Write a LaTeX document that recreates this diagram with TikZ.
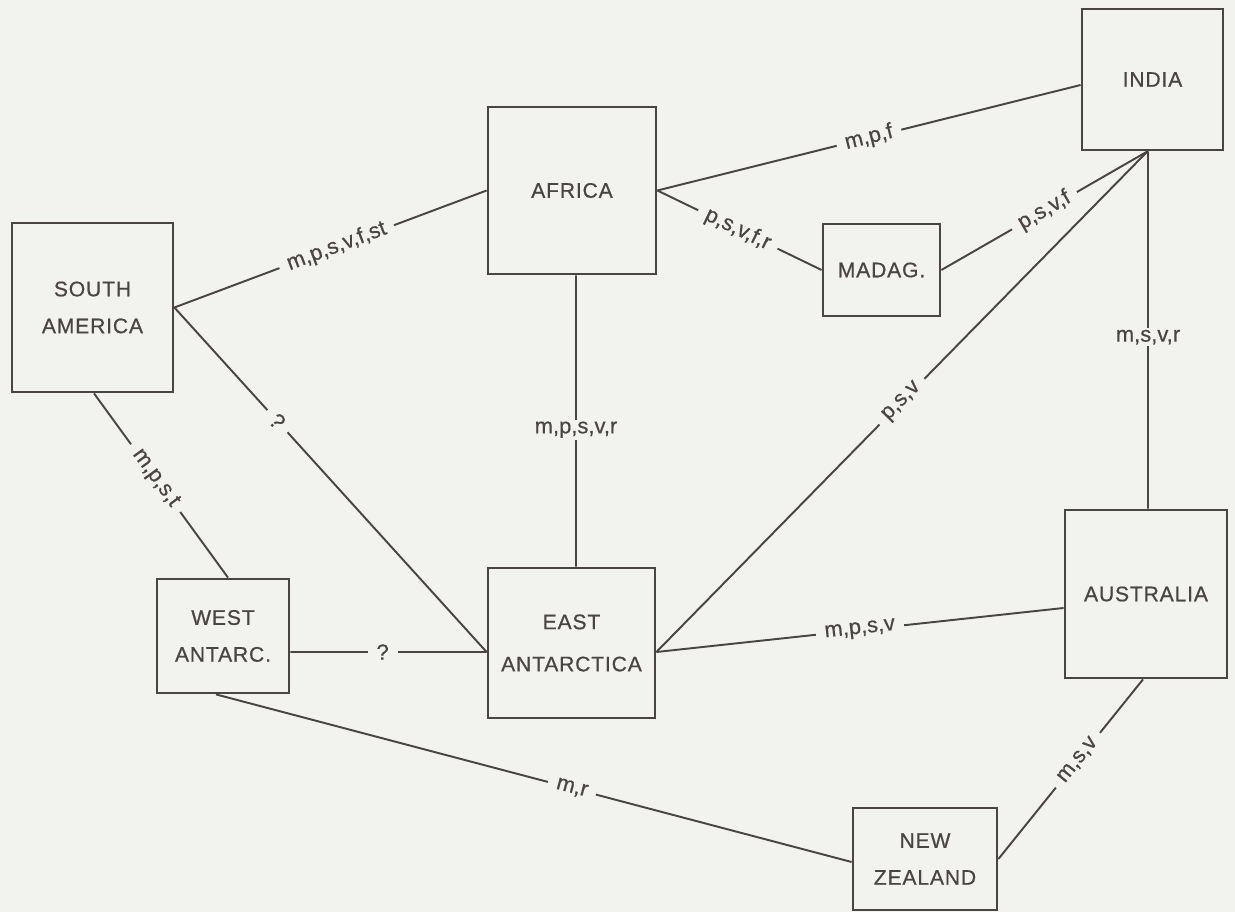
\documentclass[tikz,border=0pt]{standalone}
\usepackage{fontspec}
\setmainfont{Liberation Sans}
\newfontfamily\boxfont[LetterSpace=4,FakeBold=0.6]{Liberation Sans}
\newfontfamily\lblfont[FakeBold=0.5]{Liberation Sans}
\definecolor{bgc}{HTML}{F2F2EF}
\definecolor{ink}{HTML}{4A4444}
\begin{document}
\begin{tikzpicture}[x=0.02cm,y=-0.02cm,
  cont/.style={draw=ink, line width=1.6pt, rectangle, align=center, inner sep=0pt,
    text=ink, font=\boxfont\fontsize{12}{21}\selectfont},
  conn/.style={draw=ink, line width=1.1pt},
  lbl/.style={fill=bgc, text=ink, inner xsep=5pt, inner ysep=1pt,
    font=\lblfont\fontsize{12.5}{14}\selectfont}]
\fill[bgc] (0,0) rectangle (1235,912);
\useasboundingbox (0,0) rectangle (1235,912);

\node[cont, minimum width=2.82cm, minimum height=2.82cm] (india) at (1152.5,79.5) {INDIA};
\node[cont, minimum width=3.36cm, minimum height=3.34cm] (africa) at (572,190.5) {AFRICA};
\node[cont, minimum width=3.22cm, minimum height=3.38cm] (sa) at (92.5,307.5) {SOUTH\\AMERICA};
\node[cont, minimum width=2.34cm, minimum height=1.84cm] (madag) at (881.5,270) {MADAG.};
\node[cont, minimum width=2.64cm, minimum height=2.28cm] (wa) at (223,636) {WEST\\ANTARC.};
\node[cont, minimum width=3.34cm, minimum height=3.0cm, font=\boxfont\fontsize{12}{24}\selectfont] (ea) at (571.5,643) {EAST\\ANTARCTICA};
\node[cont, minimum width=3.24cm, minimum height=3.36cm] (aus) at (1146,594) {AUSTRALIA};
\node[cont, minimum width=2.88cm, minimum height=2.04cm] (nz) at (925,859) {NEW\\ZEALAND};

\draw[conn] (sa.east) -- node[lbl, sloped, pos=0.52] {m,p,s,v,f,st} (africa.west);
\draw[conn] (africa.east) -- node[lbl, sloped, pos=0.5] {m,p,f} ([yshift=-0.11cm]india.west);
\draw[conn] (africa.east) -- node[lbl, sloped, pos=0.49] {p,s,v,f,r} (madag.west);
\draw[conn] (madag.east) -- node[lbl, sloped, pos=0.5] {p,s,v,f} ([xshift=-0.1cm]india.south);
\draw[conn] ([yshift=-0.18cm]ea.east) -- node[lbl, sloped, pos=0.5] {p,s,v} ([xshift=-0.1cm]india.south);
\draw[conn] ([yshift=-0.18cm]ea.east) -- node[lbl, sloped, pos=0.5] {m,p,s,v} ([yshift=-0.28cm]aus.west);
\draw[conn] ([xshift=-0.09cm]india.south) -- node[lbl, pos=0.52] {m,s,v,r} ([xshift=0.04cm]aus.north);
\draw[conn] ([xshift=0.08cm]africa.south) -- node[lbl, pos=0.53] {m,p,s,v,r} ([xshift=0.09cm]ea.north);
\draw[conn] (sa.east) -- node[lbl, sloped, pos=0.33] {?} ([yshift=-0.18cm]ea.west);
\draw[conn] ([yshift=-0.32cm]wa.east) -- node[lbl, pos=0.47] {?} ([yshift=-0.18cm]ea.west);
\draw[conn] ([xshift=0.03cm]sa.south) -- node[lbl, sloped, pos=0.46] {m,p,s,t} ([xshift=0.1cm]wa.north);
\draw[conn] ([xshift=-0.14cm]wa.south) -- node[lbl, sloped, pos=0.56] {m,r} ([yshift=-0.06cm]nz.west);
\draw[conn] ([xshift=-0.06cm]aus.south) -- node[lbl, sloped, pos=0.45] {m,s,v} (nz.east);
\end{tikzpicture}
\end{document}
